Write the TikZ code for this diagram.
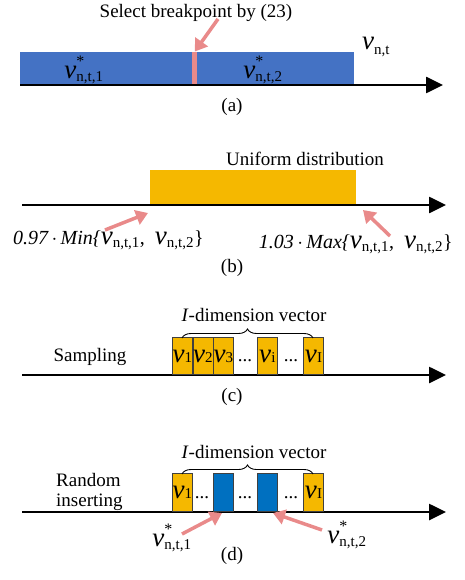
\documentclass[tikz,border=0pt]{standalone}
\usepackage{fontspec}
\setmainfont{Liberation Serif}
\usetikzlibrary{arrows.meta,decorations.pathreplacing}
\definecolor{barblue}{HTML}{4472C4}
\definecolor{insblue}{HTML}{0070C0}
\definecolor{gold}{HTML}{F5B800}
\definecolor{pinkarr}{HTML}{E98A8A}
\newcommand{\vsup}[2]{$\hbox{\fontsize{27}{27}\selectfont\itshape v}^{\raisebox{2pt}{\fontsize{16}{16}\selectfont #1}}_{\hbox{\fontsize{15}{15}\selectfont #2}}$}
\newcommand{\vsub}[1]{$\hbox{\fontsize{27}{27}\selectfont\itshape v}_{\hbox{\fontsize{15}{15}\selectfont\upshape #1}}$}
\newcommand{\vin}[1]{{\fontsize{27}{27}\selectfont\itshape v}\kern0.2pt{\fontsize{15}{15}\selectfont #1}}
\begin{document}
\begin{tikzpicture}[x=1pt,y=-1pt,
  lbl/.style={font=\fontsize{19}{22}\selectfont, inner sep=0pt},
  axis/.style={line width=2.6pt, -{Triangle[length=17pt,width=16pt]}},
  pinkarrow/.style={draw=pinkarr, line width=3.5pt, -{Triangle[length=12pt,width=15pt]}},
  cell/.style={draw=black!75, line width=0.8pt, minimum width=20pt, minimum height=#1, inner sep=0pt, anchor=south west},
  ybox/.style={cell=37pt, fill=gold},
  bbox/.style={cell=38pt, fill=insblue},
  dots/.style={font=\fontsize{19}{22}\selectfont, inner sep=0pt},
  vbrace/.style={decorate, decoration={brace, amplitude=9pt}, line width=0.9pt}
]
\useasboundingbox (0,0) rectangle (465,580);

% ---------- (a)
\node[fill=barblue, minimum width=334pt, minimum height=33pt, inner sep=0pt, anchor=south west] (A) at (20,85) {};
\node[fill=pinkarr, minimum width=5pt, minimum height=33pt, inner sep=0pt, anchor=south west] (brk) at (192,85) {};
\node[inner sep=0pt] (a1) at (84,70) {\vsup{*}{n,t,1}};
\node[inner sep=0pt] (a2) at (263,70) {\vsup{*}{n,t,2}};
\node[inner sep=0pt] (vnt) at (376,47) {\vsub{n,t}};
\node[lbl] (sel) at (196,13) {Select breakpoint by (23)};
\coordinate (selfrom) at (218,19);
\draw[pinkarrow] (selfrom) -- (brk.north);
\coordinate (axA0) at (20,85);
\coordinate (axA1) at (443,85);
\draw[axis] (axA0) -- (axA1);
\node[lbl] (capa) at (232,107) {(a)};

% ---------- (b)
\node[fill=gold, minimum width=206pt, minimum height=35pt, inner sep=0pt, anchor=south west] (U) at (150,205) {};
\node[lbl] (uni) at (305,159) {Uniform distribution};
\coordinate (axB0) at (22,205);
\coordinate (axB1) at (446,205);
\draw[axis] (axB0) -- (axB1);
\node[inner sep=0pt, anchor=west] (minl) at (13,240) {\fontsize{20}{22}\selectfont\itshape 0.97\,$\cdot$\,Min\{\vsub{n,t,1}\upshape ,\ \ \vsub{n,t,2}\}};
\node[inner sep=0pt, anchor=east] (maxl) at (453,244) {\fontsize{20}{22}\selectfont\itshape 1.03\,$\cdot$\,Max\{\vsub{n,t,1}\upshape ,\ \ \vsub{n,t,2}\}};
\coordinate (bl0) at (105,230);
\coordinate (bl1) at (148,213);
\coordinate (br0) at (390,236);
\coordinate (br1) at (363,210);
\draw[pinkarrow] (bl0) -- (bl1);
\draw[pinkarrow] (br0) -- (br1);
\node[lbl] (capb) at (232,268) {(b)};

% ---------- (c)
\coordinate (axC0) at (22,375);
\coordinate (axC1) at (446,375);
\draw[axis] (axC0) -- (axC1);
\node[ybox] (c1) at (172,375) {};
\node[ybox] (c2) at (192.5,375) {};
\node[ybox] (c3) at (213,375) {};
\node[ybox] (ci) at (257,375) {};
\node[ybox] (cI) at (303,375) {};
\node[inner sep=0pt] at (c1.center) {\vin{1}};
\node[inner sep=0pt] at (c2.center) {\vin{2}};
\node[inner sep=0pt] at (c3.center) {\vin{3}};
\node[inner sep=0pt] at (ci.center) {\vin{i}};
\node[inner sep=0pt] at (cI.center) {\vin{I}};
\node[dots] (cd1) at (245,361) {...};
\node[dots] (cd2) at (291,361) {...};
\coordinate (cb0) at (182,338);
\coordinate (cb1) at (313,338);
\draw[vbrace] (cb0) -- (cb1);
\node[lbl] (cvec) at (254,315) {\textit{I}-dimension vector};
\node[lbl] (samp) at (90,357) {Sampling};
\node[lbl] (capc) at (232,397) {(c)};

% ---------- (d)
\coordinate (axD0) at (22,512);
\coordinate (axD1) at (446,512);
\draw[axis] (axD0) -- (axD1);
\node[ybox, minimum height=38pt] (d1) at (172,512) {};
\node[bbox] (db1) at (213,512) {};
\node[bbox] (db2) at (257,512) {};
\node[ybox, minimum height=38pt] (dI) at (303,512) {};
\node[inner sep=0pt] at (d1.center) {\vin{1}};
\node[inner sep=0pt] at (dI.center) {\vin{I}};
\node[dots] (dd1) at (202,498) {...};
\node[dots] (dd2) at (245,498) {...};
\node[dots] (dd3) at (291,498) {...};
\coordinate (db0) at (182,474);
\coordinate (dbb) at (313,474);
\draw[vbrace] (db0) -- (dbb);
\node[lbl] (dvec) at (254,452) {\textit{I}-dimension vector};
\node[lbl, anchor=west, align=left] (rand) at (56,492) {Random\\[-2pt]inserting};
\node[inner sep=0pt] (s1) at (172,538) {\vsup{*}{n,t,1}};
\node[inner sep=0pt] (s2) at (347,535) {\vsup{*}{n,t,2}};
\coordinate (da0) at (182,534);
\coordinate (da1) at (222,513);
\coordinate (dc0) at (322,530);
\coordinate (dc1) at (273,513);
\draw[pinkarrow] (da0) -- (da1);
\draw[pinkarrow] (dc0) -- (dc1);
\node[lbl] (capd) at (232,556) {(d)};
\end{tikzpicture}
\end{document}
